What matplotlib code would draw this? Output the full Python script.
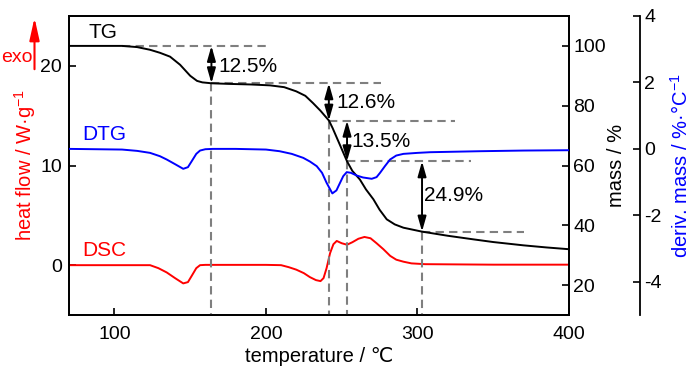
import matplotlib
matplotlib.use("Agg")
import matplotlib.pyplot as plt
from matplotlib.patches import FancyArrowPatch

plt.rcParams["font.family"] = ["Liberation Sans", "DejaVu Sans"]
plt.rcParams["mathtext.fontset"] = "custom"
plt.rcParams["mathtext.rm"] = "Liberation Sans"
plt.rcParams["mathtext.it"] = "Liberation Sans:italic"
plt.rcParams["axes.unicode_minus"] = False

# TG curve (mass / %)
tg_temp = [70, 105, 115, 123.5, 130, 136.7, 143.3, 150, 154.5, 158, 164, 175, 190,
           202.7, 212, 220, 226, 231, 236, 241.6, 244, 247, 250, 253.5, 257, 262,
           266, 270.9, 275, 279.7, 285, 290.7, 302.8, 320, 336.9, 350, 369.9, 385, 400]
tg_mass = [100, 100, 99.6, 98.7, 97.7, 96.4, 93.7, 90, 88.3, 87.8, 87.5, 87.3, 87.1,
           86.8, 86.2, 84.8, 83.3, 80.9, 78.3, 75, 72.5, 69, 65.5, 61.4, 58.2, 55.3,
           52, 48.7, 45.2, 42, 40.3, 39.2, 37.9, 36.5, 35.3, 34.4, 33.3, 32.6, 32]

# DTG curve (deriv. mass / %/C)
dtg_temp = [70, 105, 115, 123.5, 130, 134.5, 140, 145.4, 148.5, 151, 154, 156.5, 160,
            165, 180, 200, 209, 217, 224.6, 229, 233.5, 237, 240, 243.8, 246.5, 248.9,
            251, 253.3, 256, 259.8, 264, 269.8, 273, 275.3, 278.5, 281.9, 286, 290.7,
            300, 308.3, 341, 370, 400]
dtg_val = [0, -0.02, -0.06, -0.12, -0.22, -0.32, -0.46, -0.6, -0.55, -0.37, -0.15,
           -0.05, -0.01, 0, 0, -0.02, -0.07, -0.15, -0.27, -0.38, -0.52, -0.72, -1.02,
           -1.34, -1.25, -1.02, -0.82, -0.7, -0.72, -0.8, -0.86, -0.9, -0.85, -0.72,
           -0.52, -0.32, -0.2, -0.15, -0.12, -0.1, -0.07, -0.05, -0.04]

# DSC curve (heat flow / W/g)
dsc_temp = [70, 115, 123.5, 129, 134.5, 140, 145.4, 148.5, 151, 154, 156.5, 160, 180,
            200, 210, 215, 220, 225, 229, 233, 236, 238, 240, 242.3, 244.5, 246.7, 250,
            253.5, 257, 261, 265, 269, 273, 277.5, 282, 286, 290.7, 296, 305, 350, 400]
dsc_val = [0, 0, 0, -0.3, -0.73, -1.3, -1.83, -1.7, -1.07, -0.3, 0, 0.03, 0.03,
           0.03, 0, -0.2, -0.45, -0.8, -1.2, -1.5, -1.6, -1.3, -0.3, 1.2, 2.1, 2.43, 2.2,
           2.05, 2.3, 2.65, 2.83, 2.7, 2.2, 1.6, 0.93, 0.55, 0.35, 0.18, 0.1, 0.05, 0.05]

# mass-loss steps
step_temp = [164, 241.5, 253.5, 303]
step_mass = [100, 87.5, 75, 61.4, 37.9]
guide_end = [200, 276, 325, 335, 370]
guide_start = [105, 164, 241.5, 253.5, 303]
step_labels = ["12.5%", "12.6%", "13.5%", "24.9%"]
label_pos = [(168.5, 93), (246.2, 81), (256.2, 68), (304.5, 49.8)]

fig = plt.figure(figsize=(7, 3.74), dpi=100)
ax = fig.add_axes([69 / 700, 1 - 315 / 374, 500 / 700, 299 / 374])
ax2 = ax.twinx()
ax3 = ax.twinx()

tick_kw = dict(direction="in", length=5, width=1.2, labelsize=14)

# DSC
ax.plot(dsc_temp, dsc_val, color="#ff0000", lw=1.4)
ax.set_xlim(70, 400)
ax.set_ylim(-5, 25)
ax.set_xticks([100, 200, 300, 400])
ax.set_yticks([0, 10, 20])
ax.tick_params(axis="x", pad=8, **tick_kw)
ax.tick_params(axis="y", pad=5, **tick_kw)
ax.set_xlabel("temperature / ℃", fontsize=14.5, labelpad=3)
ax.set_ylabel("heat flow / W·g$^{-1}$", fontsize=14.5, color="#ff0000", labelpad=2)
ax.text(79, 1.5, "DSC", color="#ff0000", fontsize=15, va="center")

# TG and guides
dash = (0, (4, 2.5))
for i in range(len(step_mass)):
    ax2.plot([guide_start[i], guide_end[i]], [step_mass[i]] * 2,
             color="#7f7f7f", lw=1.5, ls=dash)
for i, t in enumerate(step_temp):
    ax2.plot([t, t], [step_mass[i + 1], 10], color="#7f7f7f", lw=1.5, ls=dash)
    ax2.annotate("", xy=(t, step_mass[i + 1]), xytext=(t, step_mass[i]),
                 arrowprops=dict(arrowstyle="<|-|>,head_length=0.6,head_width=0.17",
                                 color="black", lw=1.4,
                                 mutation_scale=15, shrinkA=0, shrinkB=0))
    ax2.text(label_pos[i][0], label_pos[i][1], step_labels[i], fontsize=15,
             va="center", ha="left")
ax2.plot(tg_temp, tg_mass, color="black", lw=1.4)
ax2.set_ylim(10, 110)
ax2.set_yticks([20, 40, 60, 80, 100])
ax2.tick_params(axis="y", pad=3, **tick_kw)
ax2.set_ylabel("mass / %", fontsize=14.5, labelpad=1)
ax2.text(83, 104.5, "TG", fontsize=15, va="center")

# DTG
ax3.plot(dtg_temp, dtg_val, color="#0000ff", lw=1.4)
ax3.set_ylim(-5, 4)
ax3.set_yticks([-4, -2, 0, 2, 4])
ax3.spines["right"].set_position(("axes", 1.142))
for s in ["top", "bottom", "left"]:
    ax3.spines[s].set_visible(False)
ax3.tick_params(axis="y", pad=3, **tick_kw)
ax3.set_ylabel("deriv. mass / %·°C$^{-1}$", fontsize=14.5, color="#0000ff", labelpad=6)
ax3.text(79, 0.43, "DTG", color="#0000ff", fontsize=15, va="center")

for a in (ax, ax2, ax3):
    for s in a.spines.values():
        s.set_linewidth(1.3)

# exo marker
fig.text(1 / 700, 1 - 57 / 374, "exo", color="#ff0000", fontsize=14,
         ha="left", va="center")
fig.patches.append(FancyArrowPatch(
    (34.5 / 700, 1 - 72 / 374), (34.5 / 700, 1 - 15 / 374),
    transform=fig.transFigure, arrowstyle="-|>,head_length=0.9,head_width=0.2",
    mutation_scale=15, color="#ff0000", lw=1.5))

fig.savefig("out.png", dpi=100)
